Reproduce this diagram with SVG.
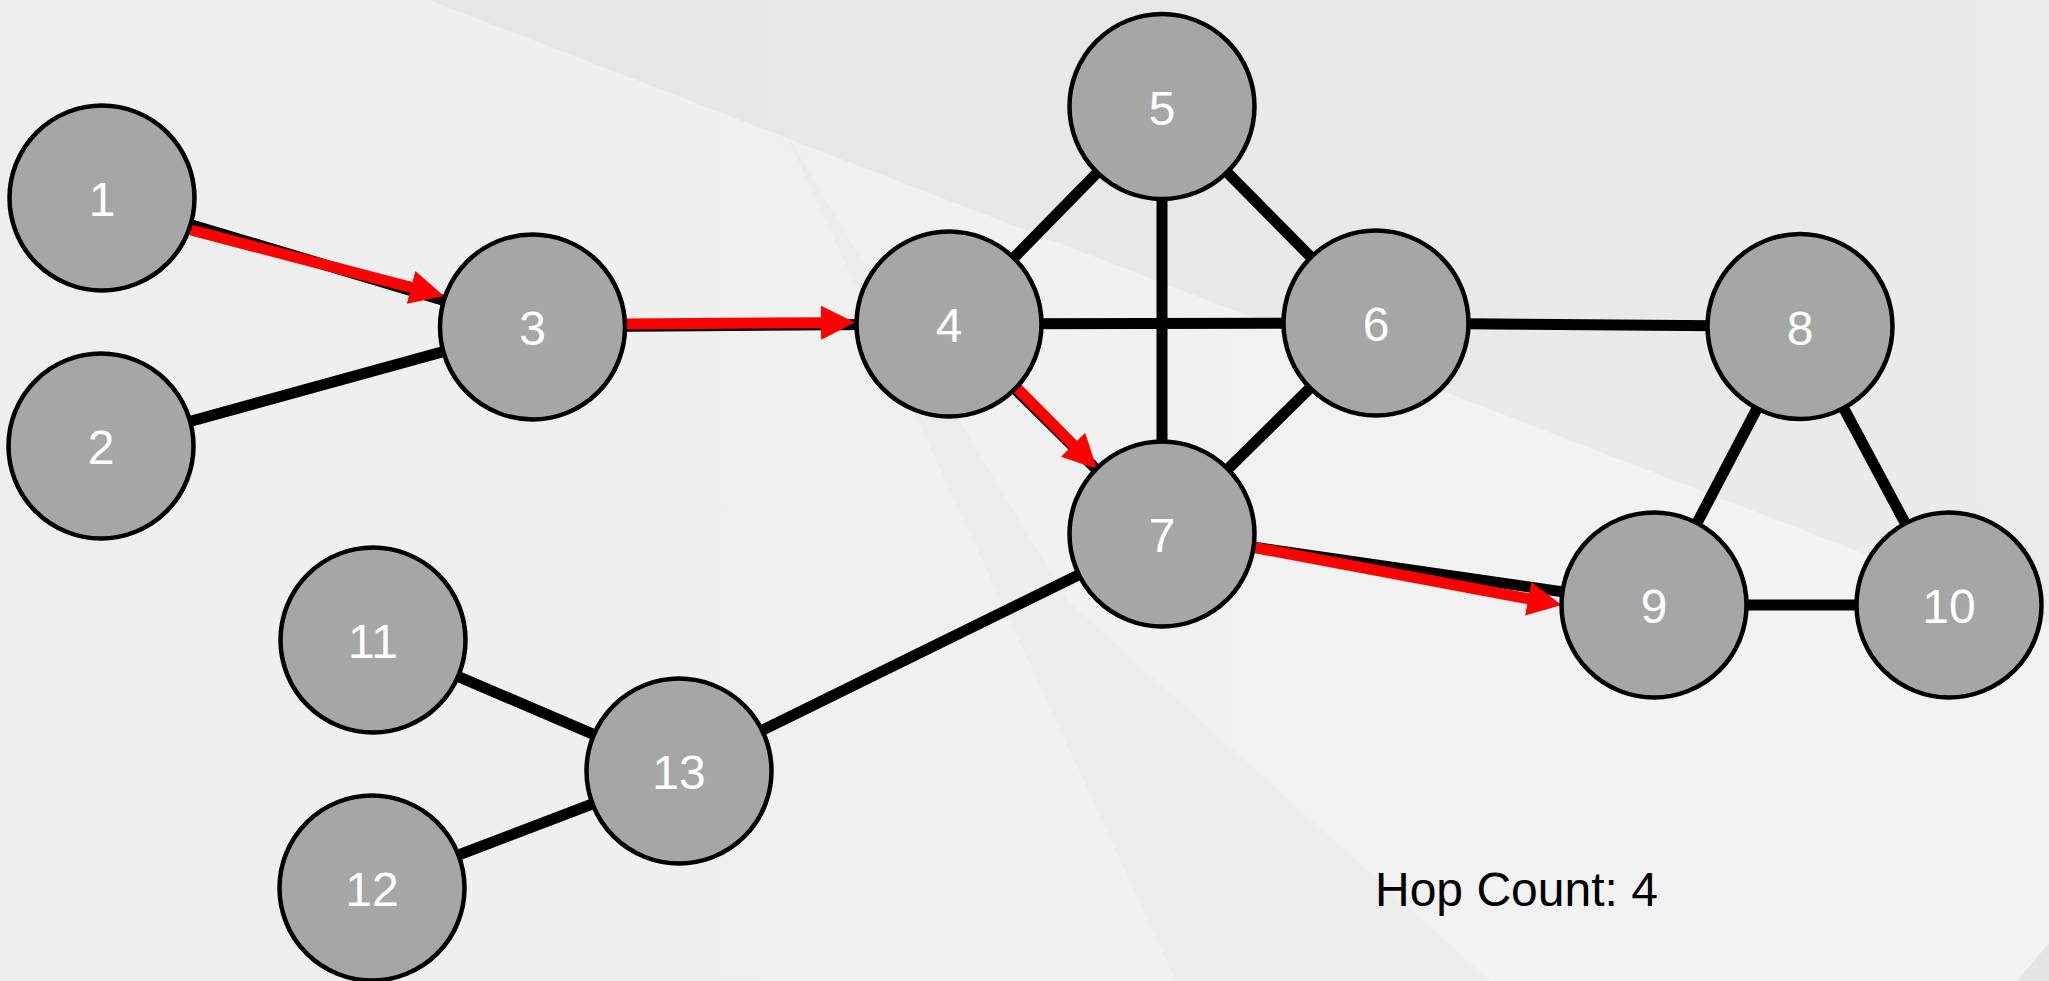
<svg xmlns="http://www.w3.org/2000/svg" width="2049" height="981" viewBox="0 0 2049 981">
<defs>
<style>
.node circle{fill:#a6a6a6;stroke:#000;stroke-width:4.5}
.node text{fill:#fff;font-family:"Liberation Sans",Arial,sans-serif;font-size:48px;text-anchor:middle}
.edge{stroke:#000;stroke-width:11;fill:none}
.hop{stroke:#f00;stroke-width:11;fill:none;marker-end:url(#arrow)}
.caption{fill:#000;font-family:"Liberation Sans",Arial,sans-serif;font-size:48px}
</style>
<marker id="arrow" markerUnits="userSpaceOnUse" markerWidth="36" markerHeight="36" viewBox="0 -18 36 36" refX="2" refY="0" orient="auto">
<path d="M0,-17 L34,0 L0,17 z" fill="#f00"/>
</marker>
<linearGradient id="bg" x1="0" y1="0" x2="1" y2="0">
<stop offset="0" stop-color="#eeeeee"/>
<stop offset="1" stop-color="#f3f3f3"/>
</linearGradient>
<linearGradient id="upper" x1="0" y1="0" x2="1" y2="0">
<stop offset="0" stop-color="#e6e6e6"/>
<stop offset="1" stop-color="#ebebeb"/>
</linearGradient>
</defs>
<g id="background">
<rect x="0" y="0" width="2049" height="981" fill="url(#bg)"/>
<polygon points="429,0 2049,0 2049,625" fill="url(#upper)"/>
<polygon points="784,130 1067,600 1490,981 1176,981" fill="#e6e6e6" opacity="0.3"/>
<polygon points="2049,943 2049,981 2017,981" fill="#e4e4e4"/>
</g>
<g id="connectors">
<line class="edge" x1="102" y1="198" x2="532.5" y2="327"/>
<line class="edge" x1="101" y1="446" x2="532.5" y2="327"/>
<line class="edge" x1="532.5" y1="327" x2="949" y2="324"/>
<line class="edge" x1="949" y1="324" x2="1162" y2="106.5"/>
<line class="edge" x1="949" y1="324" x2="1376" y2="323"/>
<line class="edge" x1="949" y1="324" x2="1162" y2="534"/>
<line class="edge" x1="1162" y1="106.5" x2="1376" y2="323"/>
<line class="edge" x1="1162" y1="106.5" x2="1162" y2="534"/>
<line class="edge" x1="1376" y1="323" x2="1162" y2="534"/>
<line class="edge" x1="1376" y1="323" x2="1800" y2="326.5"/>
<line class="edge" x1="1162" y1="534" x2="1654" y2="605"/>
<line class="edge" x1="1162" y1="534" x2="679" y2="771"/>
<line class="edge" x1="1800" y1="326.5" x2="1654" y2="605"/>
<line class="edge" x1="1800" y1="326.5" x2="1949" y2="605"/>
<line class="edge" x1="1654" y1="605" x2="1949" y2="605"/>
<line class="edge" x1="373" y1="640" x2="679" y2="771"/>
<line class="edge" x1="372" y1="888" x2="679" y2="771"/>
<line class="hop" x1="191" y1="230" x2="413" y2="287.9"/>
<line class="hop" x1="625" y1="324" x2="823" y2="322.7"/>
<line class="hop" x1="1017" y1="388" x2="1074.5" y2="446.2"/>
<line class="hop" x1="1250" y1="546.7" x2="1530.2" y2="599.1"/>
</g>
<g id="node-1" class="node"><circle cx="102" cy="198" r="92.5"/><text x="102" y="216">1</text></g>
<g id="node-2" class="node"><circle cx="101" cy="446" r="92.5"/><text x="101" y="464">2</text></g>
<g id="node-3" class="node"><circle cx="532.5" cy="327" r="92.5"/><text x="532.5" y="345">3</text></g>
<g id="node-4" class="node"><circle cx="949" cy="324" r="92.5"/><text x="949" y="342">4</text></g>
<g id="node-5" class="node"><circle cx="1162" cy="106.5" r="92.5"/><text x="1162" y="124.5">5</text></g>
<g id="node-6" class="node"><circle cx="1376" cy="323" r="92.5"/><text x="1376" y="341">6</text></g>
<g id="node-7" class="node"><circle cx="1162" cy="534" r="92.5"/><text x="1162" y="552">7</text></g>
<g id="node-8" class="node"><circle cx="1800" cy="326.5" r="92.5"/><text x="1800" y="344.5">8</text></g>
<g id="node-9" class="node"><circle cx="1654" cy="605" r="92.5"/><text x="1654" y="623">9</text></g>
<g id="node-10" class="node"><circle cx="1949" cy="605" r="92.5"/><text x="1949" y="623">10</text></g>
<g id="node-11" class="node"><circle cx="373" cy="640" r="92.5"/><text x="373" y="658">11</text></g>
<g id="node-12" class="node"><circle cx="372" cy="888" r="92.5"/><text x="372" y="906">12</text></g>
<g id="node-13" class="node"><circle cx="679" cy="771" r="92.5"/><text x="679" y="789">13</text></g>
<text id="hop-count" class="caption" x="1375" y="906">Hop Count: 4</text>
</svg>
